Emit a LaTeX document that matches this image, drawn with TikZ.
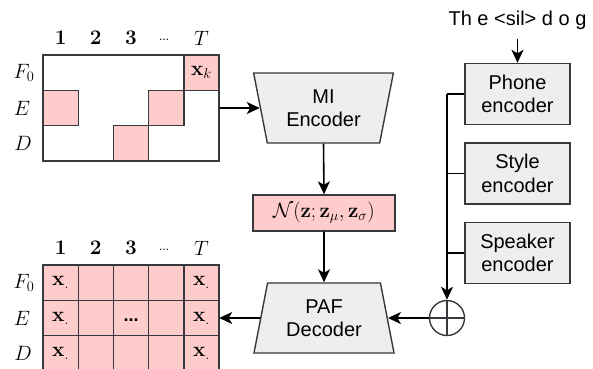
\documentclass[tikz,border=0pt]{standalone}
\usepackage[no-math]{fontspec}
\setmainfont{Liberation Sans}
\usetikzlibrary{arrows.meta,shapes.geometric,calc}
\definecolor{cellpink}{HTML}{FFCCCC}
\definecolor{boxgray}{HTML}{EEEEEE}
\definecolor{edge}{HTML}{36393D}
\begin{document}
\begin{tikzpicture}[x=1pt,y=-1pt,
  txt/.style={font=\fontsize{20}{23.5}\selectfont, align=center},
  mlabel/.style={font=\fontsize{20}{24}\selectfont, inner sep=0pt},
  cell/.style={draw=edge, line width=1.4pt, fill=cellpink, minimum width=35.2pt, minimum height=35.33pt, inner sep=0pt, font=\fontsize{20}{24}\selectfont},
  frame/.style={draw=edge, line width=1.4pt, minimum width=176pt, minimum height=106pt, inner sep=0pt},
  encbox/.style={draw=edge, line width=1.4pt, fill=boxgray, minimum width=105pt, minimum height=61pt, inner sep=0pt, txt},
  trap/.style={trapezium, trapezium stretches=true, trapezium angle=76.35, draw=edge, line width=1.4pt, fill=boxgray, minimum width=141pt, minimum height=70pt, inner sep=0pt, txt},
  arr/.style={line width=1.6pt, -{Stealth[length=13pt,width=12pt,inset=3.5pt]}},
  conn/.style={line width=1.6pt}
]
\useasboundingbox (0,0) rectangle (593,368);
\begin{scope}
\clip (0,0) rectangle (593,368);

% ---- top matrix ----
\node[frame] (topmat) at (131,108) {};
\node[cell] (t15) at (201.4,72.7) {$\mathbf{x}_k$};
\node[cell] (t21) at (60.6,108) {};
\node[cell] (t24) at (166.2,108) {};
\node[cell] (t33) at (131,143.3) {};
\node[frame] (topmatb) at (131,108) {};
\node[mlabel] (tc1) at (60.6,38) {$\mathbf{1}$};
\node[mlabel] (tc2) at (95.8,38) {$\mathbf{2}$};
\node[mlabel] (tc3) at (131,38) {$\mathbf{3}$};
\node[inner sep=0pt, font=\fontsize{12}{14}\selectfont] (tc4) at (164,40) {...};
\node[mlabel] (tc5) at (201.4,38) {$T$};
\node[mlabel] (tr1) at (24,72.7) {$F_0$};
\node[mlabel] (tr2) at (22,108) {$E$};
\node[mlabel] (tr3) at (23,143.3) {$D$};

% ---- bottom matrix ----
\foreach \c/\x in {1/60.6,2/95.8,3/131,4/166.2,5/201.4}{
  \foreach \r/\y in {1/282.7,2/318,3/353.3}{
    \node[cell] (b\r\c) at (\x,\y) {};
  }
}
\node[inner sep=0pt, font=\fontsize{20}{24}\selectfont] at (b11) {$\mathbf{x}_.$};
\node[inner sep=0pt, font=\fontsize{20}{24}\selectfont] at (b21) {$\mathbf{x}_.$};
\node[inner sep=0pt, font=\fontsize{20}{24}\selectfont] at (b31) {$\mathbf{x}_.$};
\node[inner sep=0pt, font=\fontsize{20}{24}\selectfont] at (b15) {$\mathbf{x}_.$};
\node[inner sep=0pt, font=\fontsize{20}{24}\selectfont] at (b25) {$\mathbf{x}_.$};
\node[inner sep=0pt, font=\fontsize{20}{24}\selectfont] at (b35) {$\mathbf{x}_.$};
\node[inner sep=0pt, font=\bfseries\fontsize{18}{22}\selectfont] at ([yshift=-2pt]b23) {...};
\node[draw=none, minimum width=176pt, minimum height=106pt, inner sep=0pt] (botmat) at (131,318) {};
\node[mlabel] (bc1) at (60.6,248) {$\mathbf{1}$};
\node[mlabel] (bc2) at (95.8,248) {$\mathbf{2}$};
\node[mlabel] (bc3) at (131,248) {$\mathbf{3}$};
\node[inner sep=0pt, font=\fontsize{12}{14}\selectfont] (bc4) at (164,250) {...};
\node[mlabel] (bc5) at (201.4,248) {$T$};
\node[mlabel] (br1) at (24,282.7) {$F_0$};
\node[mlabel] (br2) at (22,318) {$E$};
\node[mlabel] (br3) at (23,353.3) {$D$};

% ---- central column ----
\node[trap, shape border rotate=180] (mi) at (323.5,108) {MI\\Encoder};
\node[draw=edge, line width=1.4pt, fill=cellpink, minimum width=142pt, minimum height=36pt, inner sep=0pt, font=\fontsize{20}{24}\selectfont] (gauss) at (324,213) {$\mathcal{N}(\mathbf{z};\mathbf{z}_\mu,\mathbf{z}_\sigma)$};
\node[trap] (paf) at (324,318) {PAF\\Decoder};

% ---- right column ----
\node[txt, inner sep=0pt] (phones) at (517.5,20) {Th e <sil> d o g};
\node[encbox] (phone) at (517.5,94) {Phone\\encoder};
\node[encbox] (style) at (517.5,173.5) {Style\\encoder};
\node[encbox] (spk) at (517.5,253) {Speaker\\encoder};
\node[circle, draw=edge, line width=1.4pt, minimum size=35pt, inner sep=0pt] (op) at (447,318) {};
\draw[edge, line width=1.4pt] (op.north) -- (op.south) (op.west) -- (op.east);

% ---- connectors ----
\draw[arr] (topmat.east) -- (mi);
\draw[arr] (mi.south) -- (gauss.north);
\draw[arr] (gauss.south) -- (paf.north);
\draw[arr] (paf) -- (botmat.east);
\draw[arr] (op.west) -- (paf);
\draw[arr] ([yshift=-9pt]phones.south) -- (phone.north);
\draw[conn] (phone.west) -- (phone.west -| op.north);
\draw[conn] (style.west) -- (style.west -| op.north);
\draw[conn] (spk.west) -- (spk.west -| op.north);
\draw[arr] (phone.west -| op.north) -- (op.north);
\end{scope}
\end{tikzpicture}
\end{document}
